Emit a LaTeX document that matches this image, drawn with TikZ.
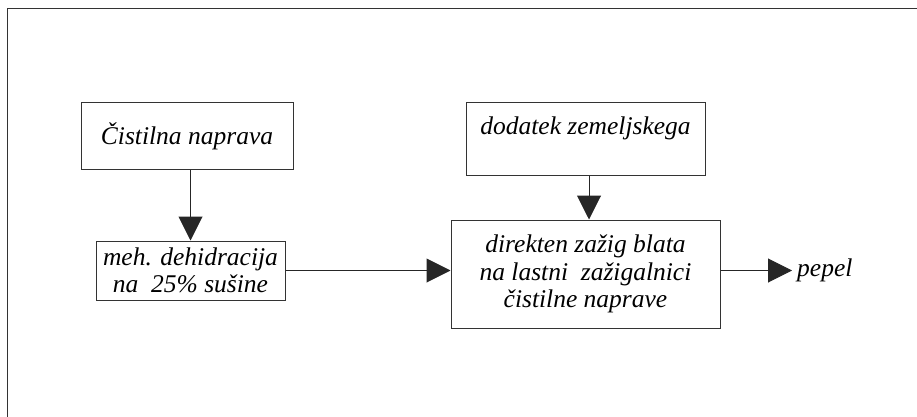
\documentclass[tikz,border=0pt]{standalone}
\usepackage{fontspec}
\setmainfont{Liberation Serif}
\usepackage{tikz}
\usetikzlibrary{arrows.meta,positioning,calc}
\definecolor{dline}{HTML}{333333}

\begin{document}
\begin{tikzpicture}[
  x=1pt,y=-1pt,
  every node/.style={font=\itshape\fontsize{25.5}{27.5}\selectfont},
  bx/.style={draw=dline,line width=1pt,inner sep=0pt,align=center},
  arrow/.style={-{Triangle[length=24pt,width=24pt]},black!85,line width=1pt}
]
\useasboundingbox (0,0) rectangle (917,417);
\draw[dline,line width=1pt] (7,417) -- (7,9) -- (917,9);
\node[bx,minimum width=212pt,minimum height=66pt] (plant) at (187,136) {Čistilna naprava};
\node[bx,minimum width=189pt,minimum height=59pt] (dewater) at (190.5,270.5) {meh. dehidracija\\na\ \ 25\% sušine};
\node[bx,minimum width=269pt,minimum height=108pt] (burn) at (585.5,274) {direkten zažig blata\\na lastni\ \ zažigalnici\\čistilne naprave};
\node[bx,minimum width=239pt,minimum height=72pt] (additive) at (585.5,139) {dodatek zemeljskega\\\mbox{}};
\node[anchor=west,inner sep=0pt] (ash) at (797,270.5) {pepel};
\draw[arrow] (plant.south -| dewater.north) -- (dewater.north);
\draw[arrow] (dewater.east) -- (dewater.east -| burn.west);
\draw[arrow] ([xshift=3.5pt]additive.south) -- ([xshift=3.5pt]burn.north);
\draw[arrow] (burn.east |- dewater.east) -- ([xshift=-5pt]ash.west);
\end{tikzpicture}
\end{document}
